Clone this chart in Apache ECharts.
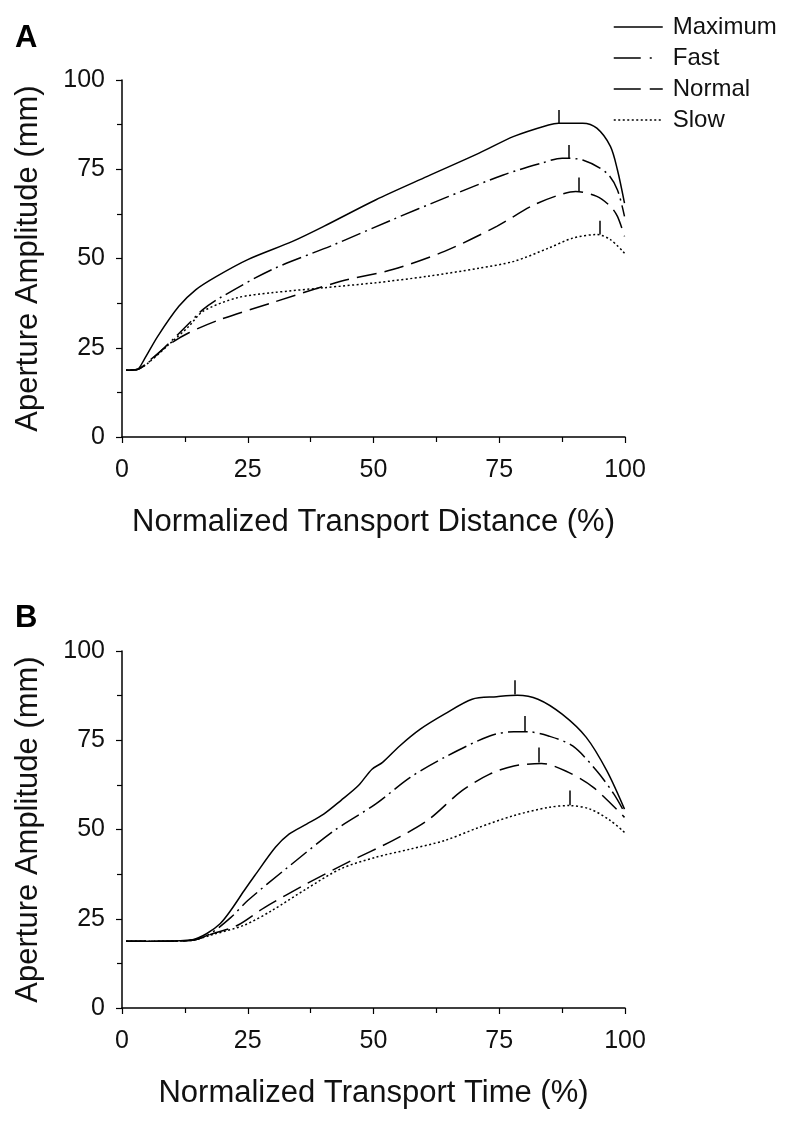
<!DOCTYPE html>
<html><head><meta charset="utf-8">
<script src="https://cdn.jsdelivr.net/npm/echarts@6/dist/echarts.min.js"></script>
<style>html,body{margin:0;padding:0;background:#fff}#c{width:800px;height:1122px}</style>
</head><body><div id="c"></div>
<script>
// ---- Data ----
const seriesNames = ['Maximum', 'Fast', 'Normal', 'Slow'];
const xTicks = [0, 25, 50, 75, 100];
const yTicks = [0, 25, 50, 75, 100];

// Panel A: Normalized Transport Distance (%) vs Aperture Amplitude (mm)
const distMaximum = [[0.8,18.7],[3,18.9],[4.4,21.7],[7.1,28.2],[11.3,36.6],[14.7,41.3],[18.8,45],[25,49.7],[33.9,54.8],[40.1,59],[50.4,66.4],[60.7,73],[71,79.5],[77.9,84.2],[84.8,87.4],[86.8,87.9],[91.6,87.9],[94.4,86.5],[97.1,81.4],[98.5,74.8],[99.9,65.5]];
const distFast = [[0.8,18.7],[3,18.9],[5,20.6],[9,25.8],[13.3,31.8],[16,35.6],[19.5,39],[29.8,46.9],[42.2,53.9],[53.8,60.9],[64.1,66.9],[75.8,73.4],[83.4,76.7],[87.5,78.1],[91.6,77.6],[96.4,73.9],[98.5,69.2],[99.9,61.8]];
const distNormal = [[0.8,18.7],[3,18.9],[5.8,21.8],[9,25.6],[13.3,29.2],[19.5,32.9],[29.8,37.6],[43.5,43.6],[53.8,46.9],[64.1,52],[74.5,59],[81.3,64.6],[86.1,67.4],[90.2,68.8],[94.4,67.4],[97.1,64.6],[98.5,61.8],[99.9,56.2]];
const distSlow = [[0.8,18.7],[3,18.9],[5,20.5],[9,25.5],[13.3,31],[16.1,35.2],[22.9,39],[29.8,40.4],[40.1,41.8],[50.4,43.2],[60.7,45],[71,47.3],[77.9,49.2],[84.8,52.9],[89.6,55.7],[94.4,56.7],[97.1,55.3],[99.9,51.5]];

// Panel B: Normalized Transport Time (%) vs Aperture Amplitude (mm)
const timeMaximum = [[0.8,18.7],[8,18.7],[14,19.1],[16.8,20.8],[19.5,23.6],[21.6,27.3],[24.3,32.9],[26.4,37.1],[30.5,45],[33.2,48.7],[36.7,51.5],[40.1,54.3],[43.5,58.1],[47,62.3],[49.7,66.9],[51.8,68.8],[55.2,73.4],[59.3,78.1],[64.1,82.3],[69.6,86.5],[74.5,87.2],[78.6,87.6],[82.7,86.5],[87.5,82.3],[92.3,75.8],[96.4,66.4],[99.9,55.7]];
const timeFast = [[0.8,18.7],[8,18.7],[14,19],[17.5,20.8],[21.6,25.3],[25,30.1],[32.6,39],[42.2,49.7],[50.4,57.1],[57.3,64.6],[64.1,70.2],[73.1,76.2],[77.9,77.4],[80.6,77.4],[84.8,76.2],[89.6,73.4],[94.4,66.4],[97.8,59.9],[99.9,54.8]];
const timeNormal = [[0.8,18.7],[8,18.7],[14,19],[18,20.8],[22.9,23.1],[28.4,28.2],[36.7,34.8],[44.9,40.8],[53.8,46.9],[60.7,52.5],[67.6,60.9],[73.1,65.5],[77.9,67.8],[83.4,68.5],[88.2,66.4],[93.7,61.8],[99.9,53.4]];
const timeSlow = [[0.8,18.7],[8,18.7],[14,19],[18.1,20.6],[24.3,23.2],[29.8,27.3],[36.7,33.4],[43.5,39],[50.4,42.2],[57.3,44.5],[64.1,46.9],[71,50.6],[77.9,53.9],[84.8,56.2],[88.9,56.7],[93.1,55.7],[97.1,52.5],[99.9,49.2]];

// Peak markers: [x, bottom, top]
const distPeaks = [[86.8,87.9,91.6],[88.9,78.1,81.8],[90.9,68.8,72.7],[94.9,56.7,60.6]];
const timePeaks = [[78,87.8,91.8],[80,77.6,81.8],[82.9,68.8,73],[89,56.8,60.9]];

// ---- Chart ----
const dashes = ['solid', [20,5,2,5], [20,8], [2,2.5]];
const legendDashes = ['solid', [27,9,2,20], [27,9,13,20], [2,2.5]];
const FONT = '"Liberation Sans", Arial, sans-serif';

function makeSeries(name, data, idx, gi, peak) {
  return {
    name: name, type: 'line', data: data, xAxisIndex: gi, yAxisIndex: gi,
    showSymbol: false, symbol: 'none', smooth: 0.3,
    lineStyle: {color: '#000', width: 1.5, type: dashes[idx]},
    itemStyle: {color: '#000'},
    animation: false,
    markLine: {
      silent: true, symbol: ['none','none'], animation: false,
      label: {show: false},
      lineStyle: {color: '#000', width: 1.5, type: 'solid'},
      data: [[{coord: [peak[0], peak[1]]}, {coord: [peak[0], peak[2]]}]]
    }
  };
}

function xAxis(gi, name) {
  return {
    type: 'value', gridIndex: gi, min: 0, max: 100, interval: 25,
    name: name, nameLocation: 'middle', nameGap: 70,
    nameTextStyle: {fontFamily: FONT, fontSize: 31, color: '#111'},
    axisLine: {lineStyle: {color: '#000', width: 1.5}},
    axisTick: {show: true, length: 6, lineStyle: {color: '#000', width: 1.2}},
    minorTick: {show: true, splitNumber: 2, length: 5, lineStyle: {color: '#000', width: 1.2}},
    axisLabel: {fontFamily: FONT, fontSize: 25, color: '#111', margin: 21,
      formatter: v => xTicks.includes(v) ? String(v) : ''},
    splitLine: {show: false}, minorSplitLine: {show: false}
  };
}
function yAxis(gi) {
  return {
    type: 'value', gridIndex: gi, min: 0, max: 100, interval: 25,
    name: 'Aperture Amplitude (mm)', nameLocation: 'middle', nameGap: 78, nameRotate: 90,
    nameTextStyle: {fontFamily: FONT, fontSize: 31, color: '#111'},
    axisLine: {show: true, lineStyle: {color: '#000', width: 1.5}},
    axisTick: {show: true, length: 6, lineStyle: {color: '#000', width: 1.2}},
    minorTick: {show: true, splitNumber: 2, length: 5, lineStyle: {color: '#000', width: 1.2}},
    axisLabel: {fontFamily: FONT, fontSize: 25, color: '#111', margin: 17,
      formatter: v => yTicks.includes(v) ? String(v) : ''},
    splitLine: {show: false}, minorSplitLine: {show: false}
  };
}

const distData = [distMaximum, distFast, distNormal, distSlow];
const timeData = [timeMaximum, timeFast, timeNormal, timeSlow];
const series = [];
seriesNames.forEach((n, i) => series.push(makeSeries(n, distData[i], i, 0, distPeaks[i])));
seriesNames.forEach((n, i) => series.push(makeSeries(n, timeData[i], i, 1, timePeaks[i])));

const chart = echarts.init(document.getElementById('c'), null, {renderer: 'canvas'});
chart.setOption({
  backgroundColor: '#fff',
  animation: false,
  grid: [
    {left: 122, width: 503, top: 80, height: 357},
    {left: 122, width: 503, top: 651, height: 357}
  ],
  xAxis: [xAxis(0, 'Normalized Transport Distance (%)'), xAxis(1, 'Normalized Transport Time (%)')],
  yAxis: [yAxis(0), yAxis(1)],
  legend: {
    data: seriesNames.map((n, i) => ({name: n, lineStyle: {type: legendDashes[i], width: 1.5, color: '#000'}})),
    orient: 'vertical', left: 608, top: 10,
    itemWidth: 49, itemHeight: 14, itemGap: 7, selectedMode: false,
    itemStyle: {opacity: 0, borderWidth: 0},
    textStyle: {fontFamily: FONT, fontSize: 24, color: '#111', padding: [0,0,0,5]},
    lineStyle: {width: 1.5}
  },
  graphic: [
    {type: 'text', left: 15, top: 23, style: {text: 'A', font: 'bold 31px ' + FONT, fill: '#000'}},
    {type: 'text', left: 15, top: 603, style: {text: 'B', font: 'bold 31px ' + FONT, fill: '#000'}}
  ],
  series: series
});
</script></body></html>
